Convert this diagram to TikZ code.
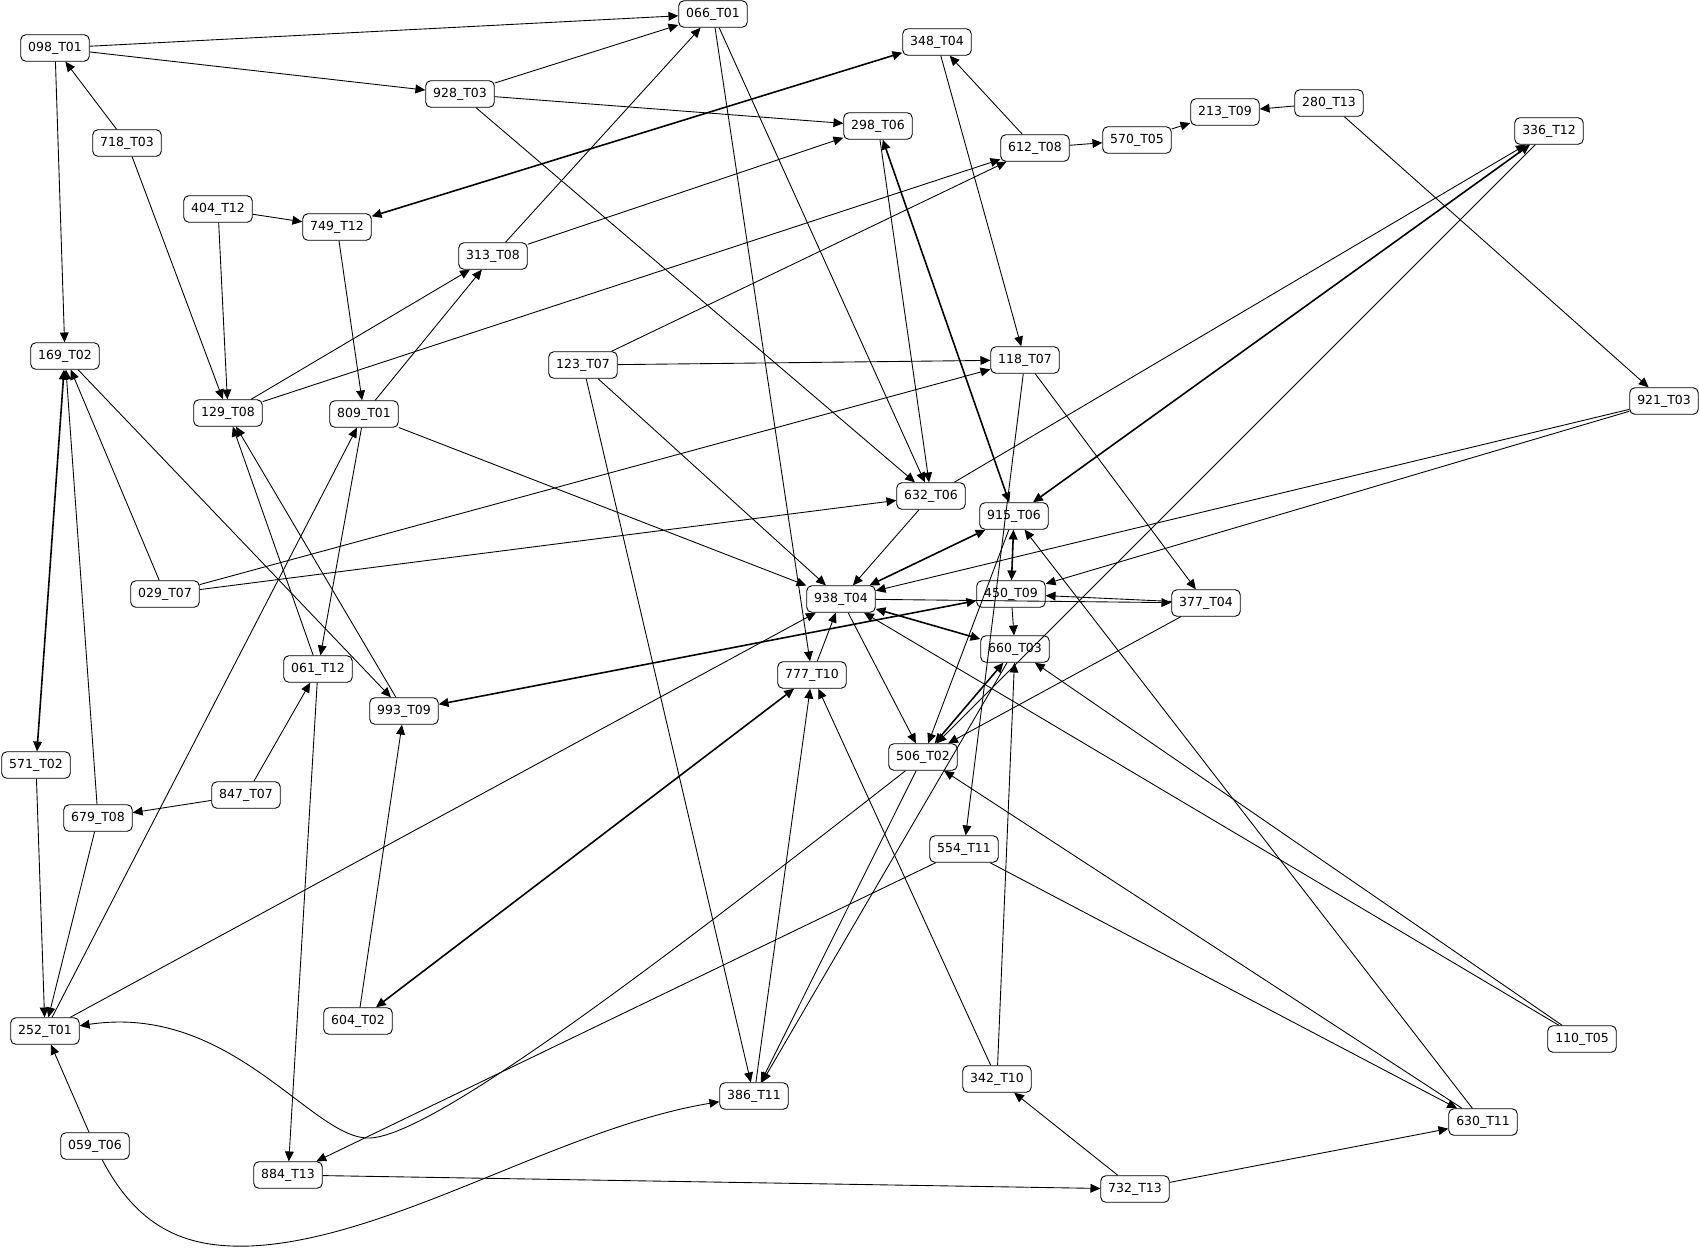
\documentclass[tikz,border=0pt]{standalone}
\usepackage{fontspec}
\setsansfont{DejaVu Sans}
\usetikzlibrary{arrows.meta}

\begin{document}
\begin{tikzpicture}[
x=0.02cm, y=-0.02cm,
font=\sffamily\fontsize{7.1}{8}\selectfont,
task/.style={rectangle,rounded corners=1mm,draw=black,fill=white,line width=0.5pt,
  minimum width=1.37cm,minimum height=0.53cm,inner sep=0pt},
arrow/.style={-{Triangle[length=5.6pt,width=5pt]},line width=0.5pt},
twoway/.style={{Triangle[length=5.6pt,width=5pt]}-{Triangle[length=5.6pt,width=5pt]},line width=0.9pt}
]
\useasboundingbox (0,0) rectangle (1700,1249);

\node[task] (n098) at (55,48) {098\_T01};
\node[task] (n718) at (127,143) {718\_T03};
\node[task] (n404) at (218,209) {404\_T12};
\node[task] (n749) at (337,227) {749\_T12};
\node[task] (n169) at (65,356) {169\_T02};
\node[task] (n129) at (228,413) {129\_T08};
\node[task] (n809) at (364,414) {809\_T01};
\node[task] (n066) at (713,14) {066\_T01};
\node[task] (n928) at (460,94) {928\_T03};
\node[task] (n313) at (493,256) {313\_T08};
\node[task] (n123) at (583,365) {123\_T07};
\node[task] (n298) at (878,126) {298\_T06};
\node[task] (n348) at (937,42) {348\_T04};
\node[task] (n612) at (1035,148) {612\_T08};
\node[task] (n570) at (1137,140) {570\_T05};
\node[task] (n213) at (1225,112) {213\_T09};
\node[task] (n118) at (1025,360) {118\_T07};
\node[task] (n280) at (1329,103) {280\_T13};
\node[task] (n336) at (1549,131) {336\_T12};
\node[task] (n921) at (1664,401) {921\_T03};
\node[task] (n029) at (165,594) {029\_T07};
\node[task] (n061) at (318,669) {061\_T12};
\node[task] (n993) at (404,711) {993\_T09};
\node[task] (n571) at (36,765) {571\_T02};
\node[task] (n847) at (246,795) {847\_T07};
\node[task] (n679) at (98,818) {679\_T08};
\node[task] (n938) at (841,599) {938\_T04};
\node[task] (n777) at (812,675) {777\_T10};
\node[task] (n632) at (931,496) {632\_T06};
\node[task] (n915) at (1014,516) {915\_T06};
\node[task] (n450) at (1011,594) {450\_T09};
\node[task] (n377) at (1206,603) {377\_T04};
\node[task] (n660) at (1015,649) {660\_T03};
\node[task] (n506) at (923,757) {506\_T02};
\node[task] (n554) at (964,849) {554\_T11};
\node[task] (n252) at (45,1031) {252\_T01};
\node[task] (n604) at (358,1021) {604\_T02};
\node[task] (n059) at (95,1146) {059\_T06};
\node[task] (n884) at (288,1175) {884\_T13};
\node[task] (n386) at (754,1096) {386\_T11};
\node[task] (n342) at (997,1079) {342\_T10};
\node[task] (n732) at (1135,1189) {732\_T13};
\node[task] (n110) at (1582,1039) {110\_T05};
\node[task] (n630) at (1483,1122) {630\_T11};

\draw[arrow] (n098) -- (n066);
\draw[arrow] (n098) -- (n928);
\draw[arrow] (n098) -- (n169);
\draw[arrow] (n718) -- (n098);
\draw[arrow] (n718) -- (n129);
\draw[arrow] (n404) -- (n749);
\draw[arrow] (n404) -- (n129);
\draw[arrow] (n749) -- (n809);
\draw[twoway] (n749) -- (n348);
\draw[arrow] (n928) -- (n066);
\draw[arrow] (n928) -- (n298);
\draw[arrow] (n928) -- (n632);
\draw[arrow] (n313) -- (n066);
\draw[arrow] (n313) -- (n298);
\draw[arrow] (n129) -- (n313);
\draw[arrow] (n809) -- (n313);
\draw[arrow] (n129) -- (n612);
\draw[arrow] (n123) -- (n612);
\draw[arrow] (n809) -- (n061);
\draw[arrow] (n809) -- (n938);
\draw[arrow] (n061) -- (n129);
\draw[arrow] (n993) -- (n129);
\draw[arrow] (n061) -- (n884);
\draw[arrow] (n169) -- (n993);
\draw[arrow] (n029) -- (n169);
\draw[arrow] (n029) -- (n118);
\draw[arrow] (n029) -- (n632);
\draw[arrow] (n123) -- (n118);
\draw[arrow] (n123) -- (n938);
\draw[arrow] (n123) -- (n386);
\draw[arrow] (n066) -- (n777);
\draw[arrow] (n066) -- (n632);
\draw[arrow] (n298) -- (n632);
\draw[twoway] (n298) -- (n915);
\draw[arrow] (n348) -- (n118);
\draw[arrow] (n612) -- (n348);
\draw[arrow] (n612) -- (n570);
\draw[arrow] (n570) -- (n213);
\draw[arrow] (n280) -- (n213);
\draw[arrow] (n280) -- (n921);
\draw[twoway] (n915) -- (n336);
\draw[arrow] (n632) -- (n336);
\draw[arrow] (n336) -- (n506);
\draw[arrow] (n938) -- (n506);
\draw[arrow] (n915) -- (n506);
\draw[twoway] (n660) -- (n506);
\draw[arrow] (n377) -- (n506);
\draw[arrow] (n506) -- (n386);
\draw[arrow] (n660) -- (n386);
\draw[arrow] (n632) -- (n938);
\draw[twoway] (n938) -- (n915);
\draw[arrow] (n921) -- (n938);
\draw[arrow] (n921) -- (n450);
\draw[twoway] (n938) -- (n660);
\draw[arrow] (n110) -- (n938);
\draw[arrow] (n110) -- (n660);
\draw[arrow] (n777) -- (n938);
\draw[arrow] (n252) -- (n938);
\draw[twoway] (n915) -- (n450);
\draw[arrow] (n630) -- (n915);
\draw[arrow] (n118) -- (n554);
\draw[arrow] (n118) -- (n377);
\draw[arrow] (n938) -- (n377);
\draw[arrow] (n377) -- (n450);
\draw[twoway] (n993) -- (n450);
\draw[arrow] (n450) -- (n660);
\draw[arrow] (n342) -- (n660);
\draw[arrow] (n342) -- (n777);
\draw[arrow] (n554) -- (n884);
\draw[arrow] (n059) -- (n252);
\draw[arrow] (n571) -- (n252);
\draw[arrow] (n679) -- (n252);
\draw[arrow] (n252) -- (n809);
\draw[twoway] (n169) -- (n571);
\draw[arrow] (n679) -- (n169);
\draw[arrow] (n847) -- (n679);
\draw[arrow] (n847) -- (n061);
\draw[arrow] (n604) -- (n993);
\draw[twoway] (n604) -- (n777);
\draw[arrow] (n386) -- (n777);
\draw[arrow] (n732) -- (n342);
\draw[arrow] (n732) -- (n630);
\draw[arrow] (n884) -- (n732);
\draw[arrow] (n554) -- (n630);
\draw[arrow] (n630) -- (n506);
\draw[arrow] (n506) .. controls (600,1010) and (420,1140) .. (367,1138)
  .. controls (310,1136) and (230,1003) .. (n252);
\draw[arrow] (n059) .. controls (140,1232) and (190,1248) .. (250,1246)
  .. controls (390,1240) and (560,1128) .. (n386);

\end{tikzpicture}
\end{document}
